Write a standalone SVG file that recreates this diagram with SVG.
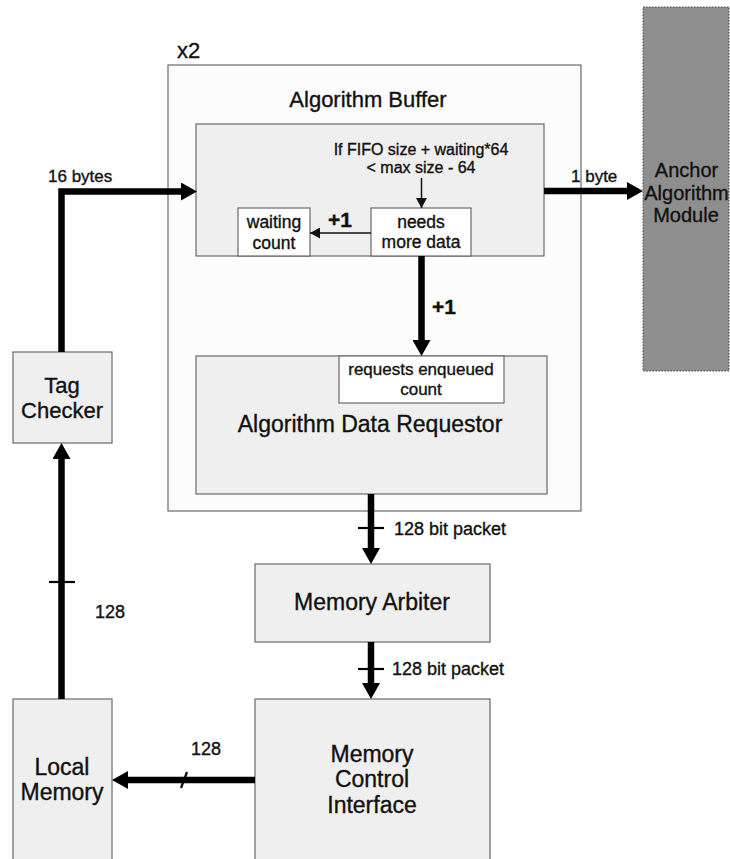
<svg xmlns="http://www.w3.org/2000/svg" width="730" height="859" viewBox="0 0 730 859">
<defs>
<style>
text{font-family:"Liberation Sans",Arial,sans-serif;fill:#111;stroke:#111;stroke-width:0.35;}
.c{text-anchor:middle;}
.box{fill:#efefef;stroke:#6a6a6a;stroke-width:1.2;}
.wbox{fill:#ffffff;stroke:#6a6a6a;stroke-width:1.2;}
.thick{fill:none;stroke:#000;stroke-width:6.5;stroke-linejoin:miter;}
.thin{fill:none;stroke:#111;stroke-width:1.5;}
.tick{fill:none;stroke:#000;stroke-width:2.2;}
.b{font-weight:bold;}
</style>
<marker id="ah" viewBox="0 0 16 18" refX="4" refY="9" markerWidth="16" markerHeight="18" markerUnits="userSpaceOnUse" orient="auto">
<path d="M0,0 L16,9 L0,18 z" fill="#000"/>
</marker>
<marker id="as" viewBox="0 0 10 11" refX="10" refY="5.5" markerWidth="10" markerHeight="11" markerUnits="userSpaceOnUse" orient="auto">
<path d="M0,0 L10,5.5 L0,11 z" fill="#111"/>
</marker>
</defs>
<rect width="730" height="859" fill="#ffffff"/>

<g id="outer">
<rect x="168" y="65" width="413" height="446" fill="#fcfcfc" stroke="#6a6a6a" stroke-width="1.2"/>
<text x="177" y="58" font-size="22">x2</text>
<text class="c" x="368" y="107" font-size="22">Algorithm Buffer</text>
</g>

<g id="algorithm-buffer">
<rect class="box" x="196" y="124" width="348" height="132"/>
<text class="c" x="421" y="155" font-size="16">If FIFO size + waiting*64</text>
<text class="c" x="421" y="173" font-size="16">&lt; max size - 64</text>
</g>

<g id="waiting-count">
<rect class="wbox" x="238" y="208" width="72" height="48"/>
<text class="c" x="274" y="228" font-size="17.5">waiting</text>
<text class="c" x="274" y="249" font-size="17.5">count</text>
</g>

<g id="needs-more-data">
<rect class="wbox" x="371" y="208" width="100" height="48"/>
<text class="c" x="421" y="228" font-size="17.5">needs</text>
<text class="c" x="421" y="248" font-size="17.5">more data</text>
</g>

<g id="requestor">
<rect class="box" x="196" y="356" width="351" height="138"/>
<text class="c" x="370" y="432" font-size="23">Algorithm Data Requestor</text>
</g>

<g id="requests-count">
<rect class="wbox" x="339" y="356" width="165" height="47"/>
<text class="c" x="421" y="375" font-size="17">requests enqueued</text>
<text class="c" x="421" y="395" font-size="17">count</text>
</g>

<g id="tag-checker">
<rect class="box" x="13" y="352" width="99" height="91"/>
<text class="c" x="62" y="393" font-size="22">Tag</text>
<text class="c" x="62" y="418" font-size="22">Checker</text>
</g>

<g id="anchor">
<rect x="643" y="7" width="86" height="364" fill="#8e8e8e" stroke="#444" stroke-width="1" stroke-dasharray="1.5 1.5"/>
<text class="c" x="686.5" y="177" font-size="20">Anchor</text>
<text class="c" x="686.5" y="200" font-size="20">Algorithm</text>
<text class="c" x="686" y="222" font-size="20">Module</text>
</g>

<g id="memory-arbiter">
<rect class="box" x="255" y="564" width="235" height="78"/>
<text class="c" x="372" y="610" font-size="23">Memory Arbiter</text>
</g>

<g id="memory-control-interface">
<rect class="box" x="255" y="699" width="235" height="175"/>
<text class="c" x="372" y="762" font-size="23">Memory</text>
<text class="c" x="372" y="787" font-size="23">Control</text>
<text class="c" x="372" y="813" font-size="23">Interface</text>
</g>

<g id="local-memory">
<rect class="box" x="13" y="699" width="99" height="175"/>
<text class="c" x="62" y="775" font-size="23">Local</text>
<text class="c" x="62" y="800" font-size="23">Memory</text>
</g>

<g id="connectors">
<path class="thick" d="M61.5,352 V191.5 H185" marker-end="url(#ah)"/>
<text x="48" y="182" font-size="17">16 bytes</text>
<path class="thick" d="M544,191 H631" marker-end="url(#ah)"/>
<text x="571" y="182" font-size="17">1 byte</text>
<path class="thin" d="M421.5,178 V208" marker-end="url(#as)"/>
<path class="thin" d="M371,233 H310" marker-end="url(#as)"/>
<text class="b" x="328" y="227" font-size="21">+1</text>
<path class="thick" d="M421.5,256 V344" marker-end="url(#ah)"/>
<text class="b" x="432" y="314" font-size="21">+1</text>
<path class="thick" d="M371,494 V552" marker-end="url(#ah)"/>
<path class="tick" d="M358,528 H384"/>
<text x="394" y="535" font-size="18">128 bit packet</text>
<path class="thick" d="M371,642 V687" marker-end="url(#ah)"/>
<path class="tick" d="M358,669 H384"/>
<text x="392" y="675" font-size="18">128 bit packet</text>
<path class="thick" d="M255,780 H124" marker-end="url(#ah)"/>
<path class="tick" d="M181,788 L187,772"/>
<text x="191" y="755" font-size="18">128</text>
<path class="thick" d="M61.5,699 V455" marker-end="url(#ah)"/>
<path class="tick" d="M49,582 H75"/>
<text x="95" y="618" font-size="18">128</text>
</g>
</svg>
